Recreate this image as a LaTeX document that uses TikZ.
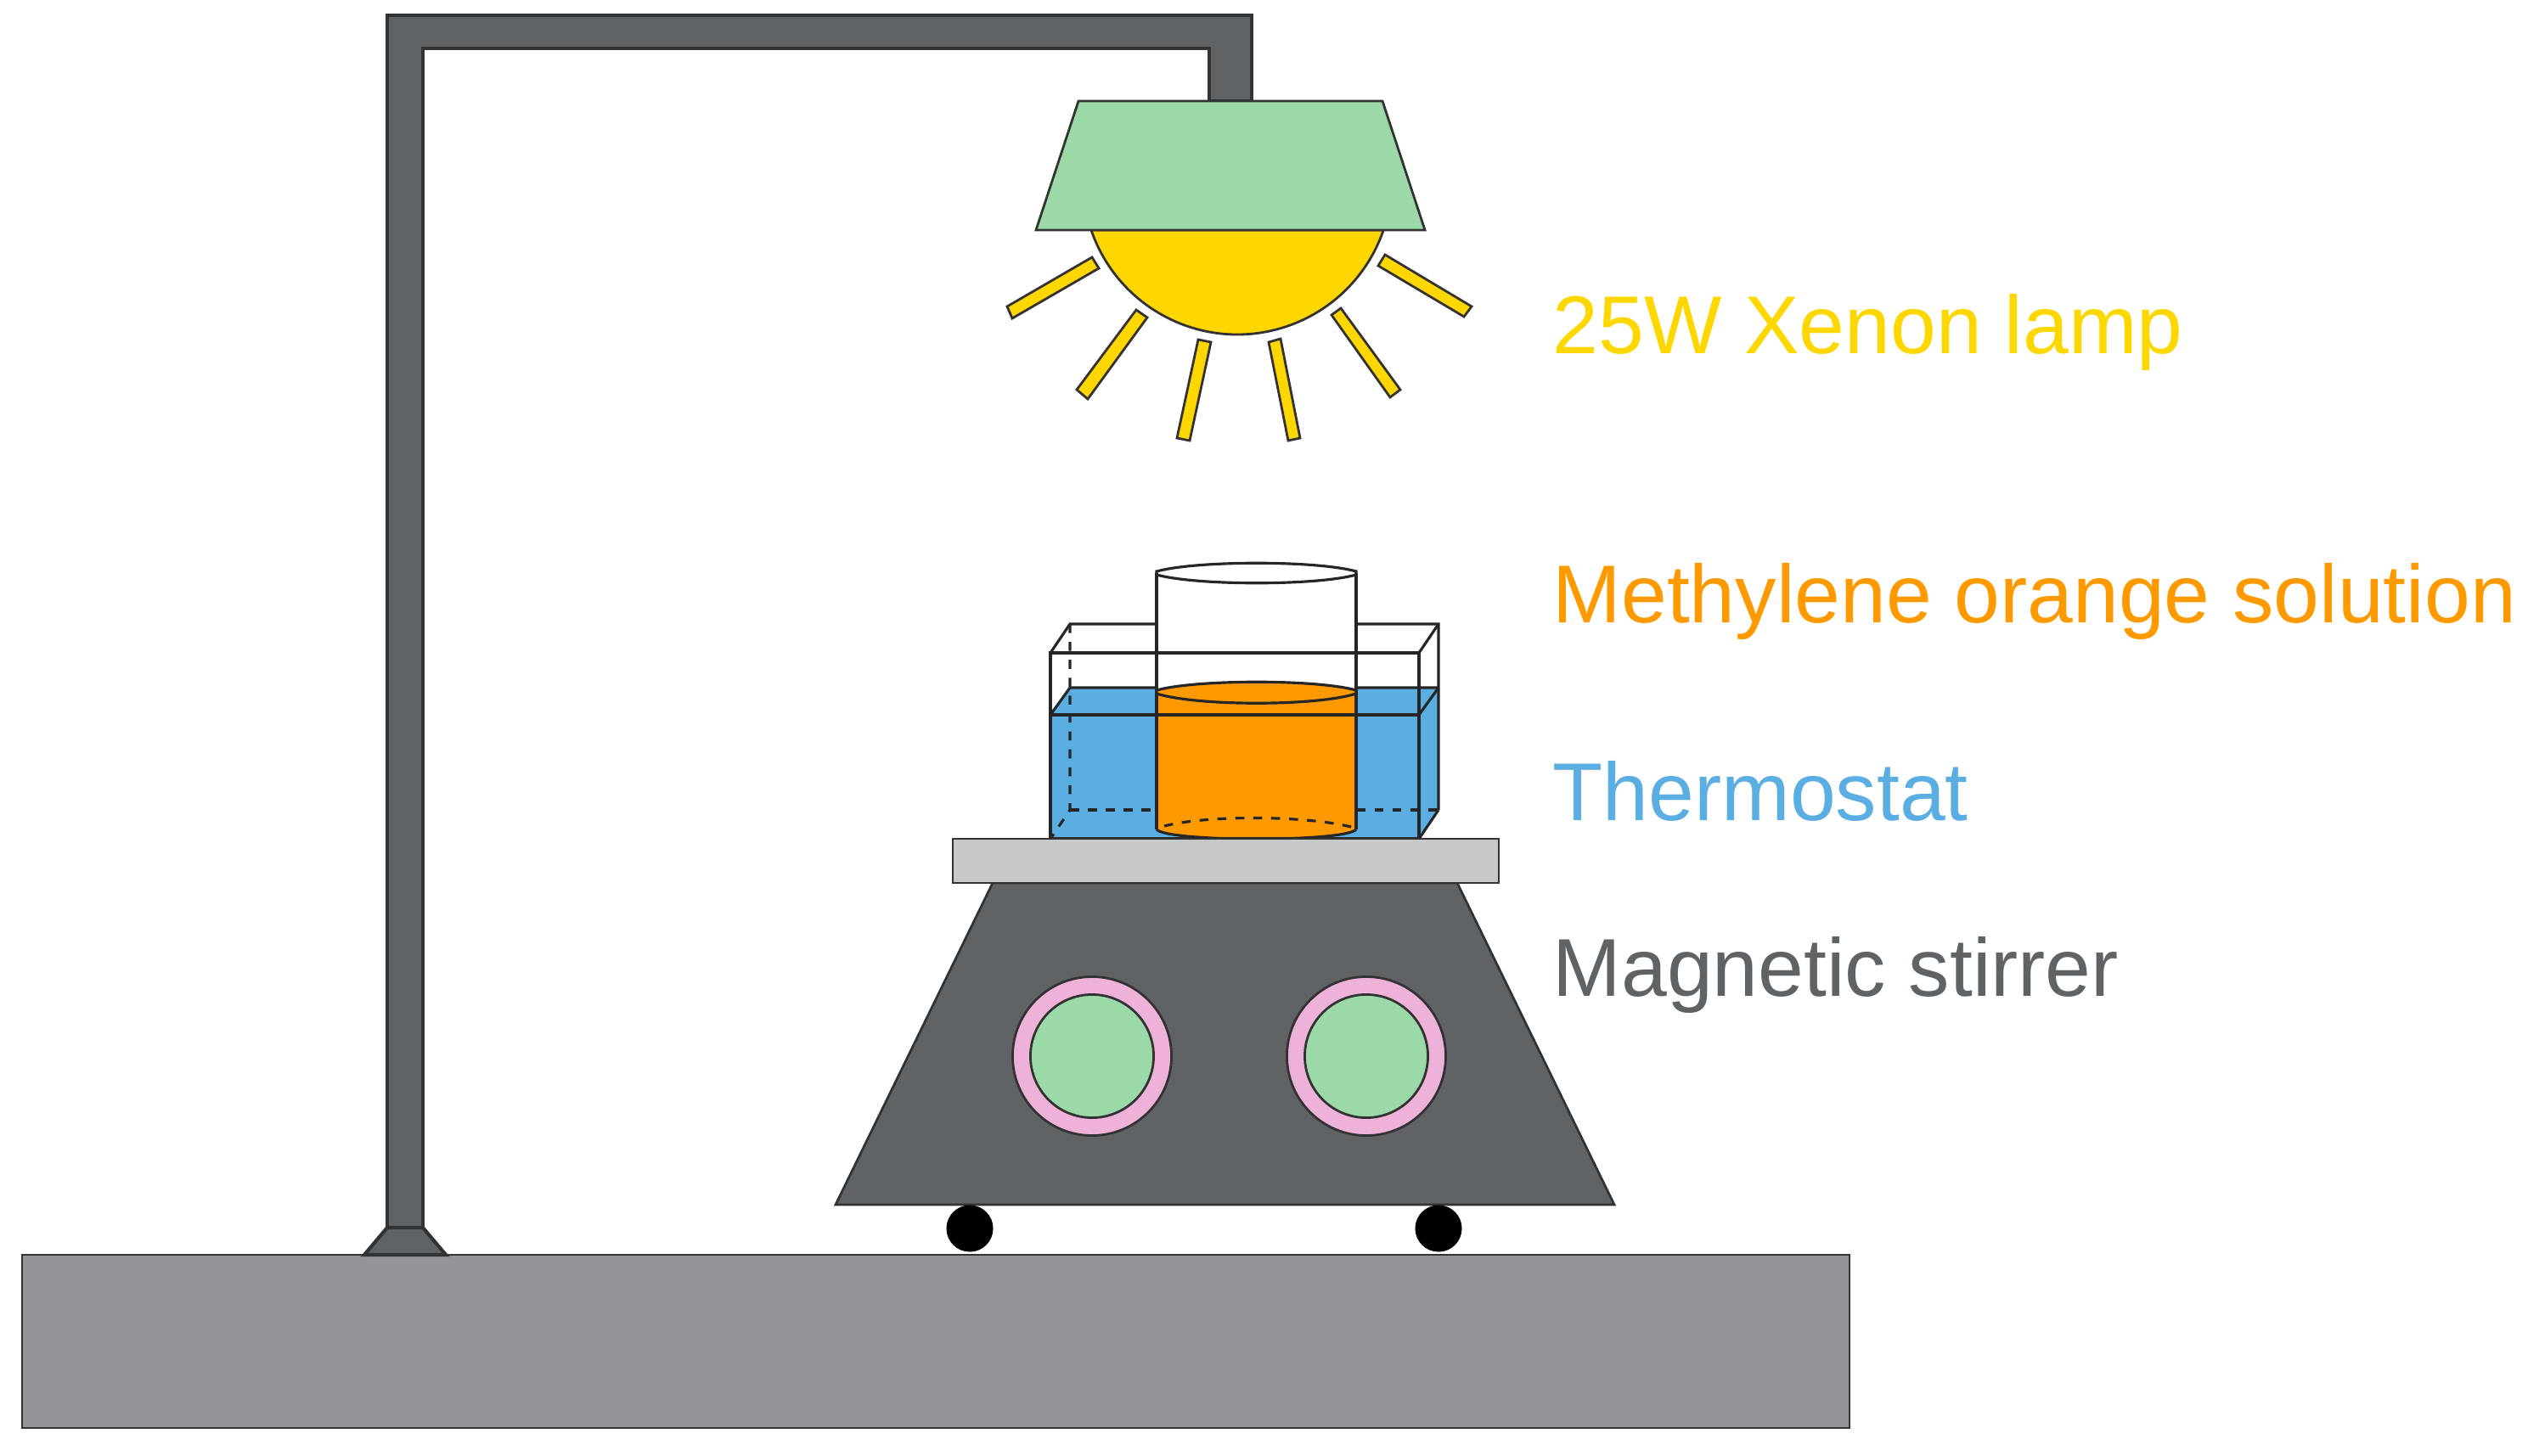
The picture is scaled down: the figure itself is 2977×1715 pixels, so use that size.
\documentclass[tikz,border=0pt]{standalone}
\usepackage{fontspec}
\setmainfont{Liberation Sans}
\definecolor{lampgold}{HTML}{FFD700}
\definecolor{shadegreen}{HTML}{9BDAA8}
\definecolor{waterblue}{HTML}{5BAEE2}
\definecolor{solorange}{HTML}{FF9900}
\definecolor{bodygray}{HTML}{606366}
\definecolor{plategray}{HTML}{C7C8CA}
\definecolor{basegray}{HTML}{939598}
\definecolor{ringpink}{HTML}{EEB1D8}
\tikzset{
  part/.style={draw=black!80, line width=0.8pt, line join=miter},
  ray/.style={part, fill=lampgold},
  glass/.style={draw=black!85, line width=0.9pt},
  hidden/.style={glass, dash pattern=on 3pt off 3pt},
  label/.style={anchor=base west, inner sep=0pt, font=\fontsize{27.5}{30}\selectfont},
  ring/.style={draw=black!80, circle, inner sep=0pt, line width=0.8pt, fill=ringpink, minimum size=1.87cm},
  lens/.style={draw=black!80, circle, inner sep=0pt, line width=0.8pt, fill=shadegreen, minimum size=1.45cm},
  wheel/.style={circle, inner sep=0pt, fill=black, minimum size=0.55cm}
}
\begin{document}
\begin{tikzpicture}[x=0.01cm, y=-0.01cm]
  \useasboundingbox (0,0) rectangle (2977,1715);
  % bench and stand
  \draw [part, fill=basegray] (26,1478) rectangle (2178,1682);
  \draw [part, fill=bodygray, line width=1.2pt] (456,1446) -- (456,18) -- (1474,18) -- (1474,119)
    -- (1424,119) -- (1424,57) -- (498,57) -- (498,1446) -- cycle;
  \draw [part, fill=bodygray, line width=1.2pt] (456,1446) -- (498,1446) -- (525,1478) -- (429,1478) -- cycle;
  % lamp
  \draw [part, fill=lampgold] (1285,271) arc [start angle=198.9, end angle=341.1, radius=1.818cm] -- cycle;
  \draw [part, fill=shadegreen] (1270,119) -- (1628,119) -- (1678,271) -- (1220,271) -- cycle;
  \draw [ray] (1186,361) -- (1286,303) -- (1294,316) -- (1192,375) -- cycle;
  \draw [ray] (1268,459) -- (1338,365) -- (1351,374) -- (1281,470) -- cycle;
  \draw [ray] (1386,516) -- (1411,400) -- (1426,403) -- (1401,519) -- cycle;
  \draw [ray] (1494,403) -- (1508,399) -- (1531,516) -- (1517,519) -- cycle;
  \draw [ray] (1568,371) -- (1579,363) -- (1649,459) -- (1637,468) -- cycle;
  \draw [ray] (1623,313) -- (1631,300) -- (1733,361) -- (1724,373) -- cycle;
  % thermostat, rear part
  \fill [waterblue] (1237,842) -- (1260,810) -- (1694,810) -- (1694,954) -- (1671,988) -- (1237,988) -- cycle;
  \draw [glass] (1237,769) -- (1260,735) -- (1694,735) -- (1694,954);
  \draw [glass] (1237,842) -- (1260,810) -- (1694,810);
  \draw [hidden] (1260,735) -- (1260,954) -- (1237,988);
  \draw [hidden] (1260,954) -- (1694,954);
  % beaker
  \fill [white] (1362,675) rectangle (1597,816);
  \fill [solorange] (1362,816) -- (1362,977) .. controls (1362,992) and (1597,992) .. (1597,977) -- (1597,816) -- cycle;
  \draw [glass] (1362,977) -- (1362,675);
  \draw [glass] (1597,977) -- (1597,675);
  \draw [glass] (1362,673) .. controls (1410,660) and (1550,660) .. (1597,673) -- (1597,677)
    .. controls (1550,690) and (1410,690) .. (1362,677) -- cycle;
  \draw [glass, fill=solorange] (1362,813) .. controls (1410,800) and (1550,800) .. (1597,813) -- (1597,817)
    .. controls (1550,832) and (1410,832) .. (1362,817) -- cycle;
  \draw [hidden] (1371,973) .. controls (1420,960) and (1540,960) .. (1595,975);
  \draw [glass] (1362,977) .. controls (1375,992) and (1584,992) .. (1597,977);
  % thermostat, front part
  \draw [glass] (1237,769) rectangle (1671,988);
  \draw [glass] (1237,842) -- (1671,842);
  \draw [glass] (1671,769) -- (1694,735);
  \draw [glass] (1671,842) -- (1694,810);
  \draw [glass] (1671,988) -- (1694,954);
  % stirrer
  \draw [part, fill=bodygray] (1169,1040) -- (1716,1040) -- (1901,1419) -- (984,1419) -- cycle;
  \draw [part, fill=plategray] (1122,988) rectangle (1765,1040);
  \node [ring] (ringL) at (1286,1244) {};
  \node [ring] (ringR) at (1609,1244) {};
  \node [lens] (lensL) at (ringL) {};
  \node [lens] (lensR) at (ringR) {};
  \node [wheel] (wheelL) at (1142,1447) {};
  \node [wheel] (wheelR) at (1694,1447) {};
  % labels
  \node [label, text=lampgold] (lamp) at (1828,416) {25W Xenon lamp};
  \node [label, text=solorange] (solution) at (1828,733) {Methylene orange solution};
  \node [label, text=waterblue] (thermo) at (1828,966) {Thermostat};
  \node [label, text=bodygray] (stirrer) at (1828,1173) {Magnetic stirrer};
\end{tikzpicture}
\end{document}
